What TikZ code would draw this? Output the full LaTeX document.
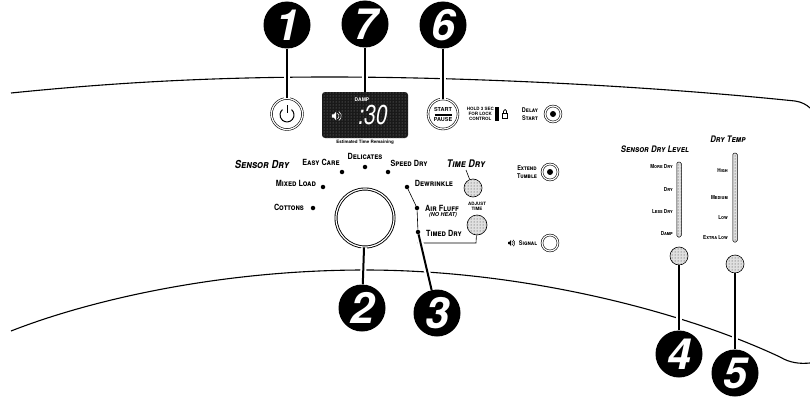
\documentclass[tikz,border=0pt]{standalone}
\usepackage{fontspec}
\setmainfont{TeX Gyre Heros}
\usetikzlibrary{positioning, patterns}
\newcommand{\smc}[1]{\scalebox{.85}[1]{\textsc{#1}}}

\begin{document}
\begin{tikzpicture}[x=1pt, y=-1pt,
  callout/.style={circle, fill=black, text=white, minimum size=47pt, inner sep=0pt, font=\fontsize{43}{43}\selectfont\bfseries\itshape},
  leader/.style={preaction={draw=white, line width=6pt}, line width=2pt},
  thinline/.style={line width=.6pt},
  panel/.style={line width=1.1pt},
  knob/.style={circle, draw=black, preaction={fill=black!12}, pattern=dots, pattern color=black!80, line width=.6pt, minimum size=#1, inner sep=0pt},
  ringbtn/.style={circle, draw=black, double=white, double distance=1.2pt, fill=white, line width=.6pt, minimum size=#1, inner sep=0pt},
  led/.style={circle, fill=black, minimum size=4.5pt, inner sep=0pt},
  slider/.style={rectangle, rounded corners=1.5pt, draw=black, preaction={fill=black!12}, pattern=dots, pattern color=black!80, line width=.5pt, minimum width=4.5pt, inner sep=0pt},
  lbl/.style={font=\fontsize{8.5}{8.5}\selectfont\bfseries, inner sep=0pt},
  tiny/.style={font=\fontsize{4.5}{5}\selectfont\bfseries, inner sep=0pt, align=center},
  small/.style={font=\fontsize{5.5}{6}\selectfont\bfseries, inner sep=0pt, anchor=east},
  head/.style={font=\fontsize{#1}{#1}\selectfont\bfseries\itshape, inner sep=0pt},
  soundicon/.pic={
    \fill (-3,-1.2) -- (-1.5,-1.2) -- (0,-3) -- (0,3) -- (-1.5,1.2) -- (-3,1.2) -- cycle;
    \draw[line width=.5pt] (1,-2) arc[start angle=-60, end angle=60, radius=2.3];
    \draw[line width=.5pt] (2,-3.2) arc[start angle=-60, end angle=60, radius=3.7];
  }
]
\useasboundingbox (0,0) rectangle (810,396);

\draw[panel] (11,93) .. controls (100,84) and (200,77) .. (330,77) .. controls (470,77) and (650,86) .. (795,101) .. controls (802,102) and (807,105) .. (810,108);
\draw[panel] (11,331) .. controls (90,300) and (220,270) .. (365,270) .. controls (520,270) and (680,310) .. (780,357) .. controls (790,363) and (800,364) .. (810,363);

\node[ringbtn=31pt] (power) at (287,114) {};
\draw[line width=1pt] (291.5,109.6) arc[start angle=-50, end angle=230, radius=7];
\draw[line width=1pt] (287,105) -- (287,113);
\node[rectangle, preaction={fill=black!90}, pattern=dots, pattern color=black!45, rounded corners=3pt, minimum width=86pt, minimum height=46pt, inner sep=0pt] (display) at (365,115) {};
\node[text=white, font=\fontsize{5}{5}\selectfont\bfseries, inner sep=0pt] (damp) at (362,100) {DAMP};
\node[text=white, font=\fontsize{21}{21}\selectfont\itshape, inner sep=0pt] (time) at (373,115) {\scalebox{1}[1.3]{:30}};
\pic[white, scale=1.4] at (336,116) {soundicon};
\node[tiny, below=2pt of display] (remain) {Estimated Time Remaining};
\node[ringbtn=30pt, font=\fontsize{5.5}{6}\selectfont\bfseries, align=center] (start) at (443,114) {START\\[-1.5pt]\rule{17pt}{1.5pt}\\[-.5pt]PAUSE};
\node[tiny, anchor=east] (hold) at (494,114) {HOLD 3 SEC\\FOR LOCK\\CONTROL};
\node[rectangle, fill=black, minimum width=3.5pt, minimum height=14pt, inner sep=0pt] (lockbar) at (497,114) {};
\draw[line width=.7pt] (502.5,113) rectangle (507.5,118);
\draw[line width=.7pt] (503.5,113) -- (503.5,111) arc[start angle=180, end angle=360, radius=1.5] -- (506.5,113);
\node[lbl, font=\fontsize{6.5}{7.5}\selectfont\bfseries, align=center] (delay) at (530,114) {\smc{Delay}\\\smc{Start}};
\node[ringbtn=16pt] (delaybtn) at (553,114) {};
\node[led, minimum size=6pt] (delayled) at (553,114) {};

\node[lbl] (delicates) at (365,156) {\smc{Delicates}};
\node[lbl] (easycare) at (321,162) {\smc{Easy Care}};
\node[lbl] (speeddry) at (409,163) {\smc{Speed Dry}};
\node[lbl] (mixedload) at (296,183) {\smc{Mixed Load}};
\node[lbl] (cottons) at (289,207) {\smc{Cottons}};
\node[head=11] (sensordry) at (262,164) {\smc{Sensor Dry}};
\node[head=10.5] (timedry) at (466,164) {\smc{Time Dry}};
\node[lbl] (dewrinkle) at (434,183) {\smc{Dewrinkle}};
\node[lbl] (airfluff) at (442,208) {\smc{Air Fluff}};
\node[head=5.5] (noheat) at (443,215.5) {(NO HEAT)};
\node[lbl] (timed) at (444,233) {\smc{Timed Dry}};
\node[tiny] (adjust) at (477,206) {ADJUST\\TIME};
\node[lbl, font=\fontsize{6.5}{7.5}\selectfont\bfseries, align=center] (extend) at (527,172) {\smc{Extend}\\\smc{Tumble}};
\node[lbl, font=\fontsize{6.5}{7.5}\selectfont\bfseries] (signal) at (528,243) {\smc{Signal}};
\pic at (511,243) {soundicon};

\node[led] (ledcot) at (313,208) {};
\node[led] (ledmix) at (323,187) {};
\node[led] (ledeasy) at (342,172) {};
\node[led] (leddel) at (365,167) {};
\node[led] (ledspeed) at (388,172) {};
\node[led] (leddew) at (407,187) {};
\node[led] (ledair) at (417,208) {};
\node[led] (ledtimed) at (418,232) {};

\node[ringbtn=58pt, line width=.9pt] (dial) at (365,218) {};
\node[knob=18pt] (timeknob) at (473,188) {};
\node[knob=20pt] (adjknob) at (477,225) {};
\node[ringbtn=16pt] (extendbtn) at (550,172) {};
\node[led, minimum size=6pt] (extendled) at (550,172) {};
\node[ringbtn=16pt] (signalbtn) at (550,243) {};

\coordinate (tdstart) at (466,170);
\draw[thinline] (tdstart) -- (timeknob);
\draw[thinline] (leddew) -- (ledair);
\draw[thinline] (ledair) -- (ledtimed);
\coordinate (adjcorner) at (476,243);
\draw[thinline] (ledtimed) |- (adjcorner) -- (adjknob);

\node[head=9] (drylevel) at (655,149) {\smc{Sensor Dry Level}};
\node[head=9] (drytemp) at (728,139) {\smc{Dry Temp}};
\node[slider, minimum height=75pt] (slidelevel) at (679,199.5) {};
\node[slider, minimum height=89pt] (slidetemp) at (735,197.5) {};
\node[small] (moredry) at (673,167) {\smc{More Dry}};
\node[small] (dry) at (673,189) {\smc{Dry}};
\node[small] (lessdry) at (673,212) {\smc{Less Dry}};
\node[small] (dampl) at (673,233) {\smc{Damp}};
\node[small] (high) at (728,171) {\smc{High}};
\node[small] (medium) at (728,198) {\smc{Medium}};
\node[small] (low) at (728,218) {\smc{Low}};
\node[small] (extralow) at (728,238) {\smc{Extra Low}};
\node[knob=18pt] (levelknob) at (679,256) {};
\node[knob=18pt] (tempknob) at (735,264) {};

\node[callout] (c1) at (287,25) {1};
\node[callout] (c7) at (365,24) {7};
\node[callout] (c6) at (443,25) {6};
\node[callout] (c2) at (362,308) {2};
\node[callout] (c3) at (437,313) {3};
\node[callout] (c4) at (679,354) {4};
\node[callout] (c5) at (735,373) {5};

\draw[leader] (c1) -- (power);
\draw[leader] (c7) -- (display);
\draw[leader] (c6) -- (start);
\draw[leader] (c2) -- (dial);
\draw[leader] (c3) -- (ledtimed);
\draw[leader] (c4) -- (levelknob);
\draw[leader] (c5) -- (tempknob);
\end{tikzpicture}
\end{document}
